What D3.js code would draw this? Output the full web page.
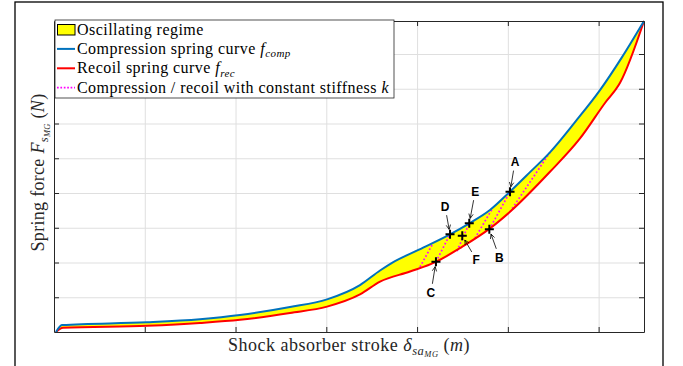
<!DOCTYPE html>
<html>
<head>
<meta charset="utf-8">
<script src="https://cdn.jsdelivr.net/npm/d3@7"></script>
<style>
  body { margin: 0; background: #fff; }
  svg { display: block; }
  .serif { font-family: "Liberation Serif", "Times New Roman", serif; }
</style>
</head>
<body>
<div id="chart"></div>
<script>
// values (stroke on x, force on y, axis units; the axes carry no numbers)
const compStroke = [0.022, 0.088, 1.025, 1.608, 2.049, 2.600, 3.008, 3.371, 3.592, 3.724, 4.021, 4.363, 4.572, 4.803, 5.024, 5.244, 5.464, 5.740, 6.015, 6.258, 6.500];
const compForce  = [0.00, 0.20, 0.28, 0.37, 0.49, 0.72, 0.94, 1.35, 1.77, 1.99, 2.37, 2.81, 3.12, 3.51, 4.04, 4.60, 5.17, 6.04, 6.96, 7.91, 8.95];
const recStroke  = [0.022, 0.099, 1.025, 1.608, 2.049, 2.600, 3.008, 3.371, 3.592, 3.922, 4.208, 4.495, 4.792, 5.024, 5.464, 5.795, 6.070, 6.236, 6.500];
const recForce   = [0.00, 0.12, 0.18, 0.26, 0.35, 0.55, 0.73, 1.08, 1.45, 1.74, 2.02, 2.45, 2.96, 3.46, 4.61, 5.57, 6.59, 7.17, 8.95];

// constant stiffness segments: [x0, y0, x1, y1]
const stiffSegments = [
  [4.032, 1.87, 4.164, 2.50],
  [4.208, 2.02, 4.363, 2.81],
  [4.440, 2.33, 4.575, 3.13],
  [4.638, 2.70, 4.825, 3.53],
  [4.796, 2.955, 5.024, 4.037],
  [5.024, 3.46, 5.464, 5.17]
];

const pointNames  = ["A", "B", "C", "D", "E", "F"];
const pointStroke = [5.024, 4.796, 4.208, 4.363, 4.575, 4.498];
const pointForce  = [4.037, 2.955, 2.023, 2.811, 3.128, 2.771];
// where each letter sits relative to its point (px)
const labelOffset = [[5, -30], [10, 28], [-5, 31], [-5, -28], [6, -32], [14, 24]];

const xTicks = [1, 2, 3, 4, 5, 6];
const yTicks = [1, 2, 3, 4, 5, 6, 7, 8];
const xMax = 6.5, yMax = 8.95;

const colors = { comp: "#0072bd", rec: "#ff0000", fill: "#ffff00", stiff: "#ff00ff", axis: "#262626", grid: "#dfdfdf" };

const width = 683, height = 366;
const plot = { left: 54, right: 644, top: 21, bottom: 332 };

const svg = d3.select("#chart").append("svg")
  .attr("width", width).attr("height", height)
  .attr("viewBox", [0, 0, width, height]);

// figure frame
svg.append("rect")
  .attr("x", 15).attr("y", 2).attr("width", 648).attr("height", 380)
  .attr("fill", "none").attr("stroke", "#000").attr("stroke-width", 1.3);

const x = d3.scaleLinear().domain([0, xMax]).range([plot.left, plot.right]);
const y = d3.scaleLinear().domain([0, yMax]).range([plot.bottom, plot.top]);

// grid
svg.append("g")
  .attr("transform", `translate(0,${plot.bottom})`)
  .call(d3.axisBottom(x).tickValues(xTicks).tickSize(-(plot.bottom - plot.top)).tickFormat(""))
  .call(g => g.select(".domain").remove())
  .selectAll("line").attr("stroke", colors.grid);
svg.append("g")
  .attr("transform", `translate(${plot.left},0)`)
  .call(d3.axisLeft(y).tickValues(yTicks).tickSize(-(plot.right - plot.left)).tickFormat(""))
  .call(g => g.select(".domain").remove())
  .selectAll("line").attr("stroke", colors.grid);

const comp = compStroke.map((d, i) => [d, compForce[i]]);
const rec = recStroke.map((d, i) => [d, recForce[i]]);

const line = d3.line().x(d => x(d[0])).y(d => y(d[1])).curve(d3.curveMonotoneX);

// oscillating regime = region between the two curves
const back = line(rec.slice().reverse());
svg.append("path")
  .attr("d", line(comp) + "L" + back.slice(1) + "Z")
  .attr("fill", colors.fill);

svg.selectAll(".stiff")
  .data(stiffSegments)
  .join("line")
  .attr("class", "stiff")
  .attr("x1", d => x(d[0])).attr("y1", d => y(d[1]))
  .attr("x2", d => x(d[2])).attr("y2", d => y(d[3]))
  .attr("stroke", colors.stiff)
  .attr("stroke-width", 1.7)
  .attr("stroke-dasharray", "1.7 2.2");

svg.append("path").attr("d", line(rec))
  .attr("fill", "none").attr("stroke", colors.rec).attr("stroke-width", 2);
svg.append("path").attr("d", line(comp))
  .attr("fill", "none").attr("stroke", colors.comp).attr("stroke-width", 2);

// box + inward ticks on all sides
const tick = 5;
const axG = svg.append("g").attr("color", colors.axis);
axG.append("g").attr("transform", `translate(0,${plot.bottom})`)
  .call(d3.axisBottom(x).tickValues(xTicks).tickSize(-tick).tickSizeOuter(0).tickFormat(""));
axG.append("g").attr("transform", `translate(0,${plot.top})`)
  .call(d3.axisTop(x).tickValues(xTicks).tickSize(-tick).tickSizeOuter(0).tickFormat(""));
axG.append("g").attr("transform", `translate(${plot.left},0)`)
  .call(d3.axisLeft(y).tickValues(yTicks).tickSize(-tick).tickSizeOuter(0).tickFormat(""));
axG.append("g").attr("transform", `translate(${plot.right},0)`)
  .call(d3.axisRight(y).tickValues(yTicks).tickSize(-tick).tickSizeOuter(0).tickFormat(""));

// points + letters
const pts = pointNames.map((n, i) => ({ name: n, px: x(pointStroke[i]), py: y(pointForce[i]), off: labelOffset[i] }));

const arrowG = svg.append("g").attr("stroke", "#000").attr("stroke-width", 0.8).attr("fill", "none");
pts.forEach(p => {
  const len = Math.hypot(p.off[0], p.off[1]);
  const ux = -p.off[0] / len, uy = -p.off[1] / len;
  const sx = p.px + p.off[0] + ux * 9, sy = p.py + p.off[1] + uy * 9;
  const ex = p.px - ux * 5, ey = p.py - uy * 5;
  arrowG.append("line").attr("x1", sx).attr("y1", sy).attr("x2", ex).attr("y2", ey);
  const a = Math.atan2(uy, ux), h = 5, w = 0.45;
  arrowG.append("path").attr("d", d3.line()([
    [ex - h * Math.cos(a - w), ey - h * Math.sin(a - w)],
    [ex, ey],
    [ex - h * Math.cos(a + w), ey - h * Math.sin(a + w)]
  ]));
});

svg.selectAll(".mk")
  .data(pts)
  .join("path")
  .attr("class", "mk")
  .attr("d", d => `M${d.px - 4.5},${d.py}H${d.px + 4.5}M${d.px},${d.py - 4.5}V${d.py + 4.5}`)
  .attr("stroke", "#000").attr("stroke-width", 2);

svg.selectAll(".lbl")
  .data(pts)
  .join("text")
  .attr("class", "lbl")
  .attr("x", d => d.px + d.off[0])
  .attr("y", d => d.py + d.off[1] + 4.5)
  .attr("text-anchor", "middle")
  .attr("font-family", "'Liberation Sans', Arial, sans-serif")
  .attr("font-weight", "bold")
  .attr("font-size", 12)
  .text(d => d.name);

// rich text helper: parts = [text, italic, size, dy]
const rich = (sel, parts) => {
  parts.forEach(p => {
    sel.append("tspan")
      .attr("font-style", p[1] ? "italic" : "normal")
      .attr("font-size", p[2])
      .attr("dy", p[3] || 0)
      .text(p[0]);
  });
  return sel;
};

// legend
const lg = svg.append("g");
lg.append("rect").attr("x", 55).attr("y", 20).attr("width", 339).attr("height", 78)
  .attr("fill", "#fff").attr("stroke", colors.axis).attr("stroke-width", 0.8);

const legendRows = [
  { type: "patch", parts: [["Oscillating regime", false, 16]] },
  { type: "comp", parts: [["Compression spring curve ", false, 16], ["f", true, 16], ["comp", true, 11, 3.5]] },
  { type: "rec", parts: [["Recoil spring curve ", false, 16], ["f", true, 16], ["rec", true, 11, 3.5]] },
  { type: "stiff", parts: [["Compression / recoil with constant stiffness ", false, 16], ["k", true, 16]] }
];
legendRows.forEach((r, i) => {
  const cy = 29.5 + i * 19.4;
  if (r.type === "patch") {
    lg.append("rect").attr("x", 57.5).attr("y", cy - 5).attr("width", 17.5).attr("height", 10.5)
      .attr("fill", colors.fill).attr("stroke", "#000").attr("stroke-width", 1);
  } else {
    lg.append("line").attr("x1", 57).attr("x2", 75).attr("y1", cy).attr("y2", cy)
      .attr("stroke", colors[r.type]).attr("stroke-width", r.type === "stiff" ? 1.7 : 2)
      .attr("stroke-dasharray", r.type === "stiff" ? "1.7 1.7" : null);
  }
  rich(lg.append("text").attr("class", "serif").attr("x", 77).attr("y", cy + 5)
    .attr("letter-spacing", 0.45).attr("fill", "#000"), r.parts);
});

// axis labels
rich(svg.append("text").attr("class", "serif")
  .attr("x", (plot.left + plot.right) / 2).attr("y", 351)
  .attr("text-anchor", "middle").attr("letter-spacing", 0.5).attr("fill", "#262626"),
  [["Shock absorber stroke ", false, 18], ["δ", true, 18], ["sa", true, 12.5, 3.5], ["MG", true, 8.5, 2.5], [" (", false, 18, -6], ["m", true, 18], [")", false, 18]]);

rich(svg.append("text").attr("class", "serif")
  .attr("transform", `translate(44,${(plot.top + plot.bottom) / 2 - 4}) rotate(-90)`)
  .attr("text-anchor", "middle").attr("letter-spacing", 0.3).attr("fill", "#262626"),
  [["Spring force ", false, 18], ["F", true, 18], ["s", true, 12.5, 3.5], ["MG", true, 8.5, 2.5], [" (", false, 18, -6], ["N", true, 18], [")", false, 18]]);
</script>
</body>
</html>
